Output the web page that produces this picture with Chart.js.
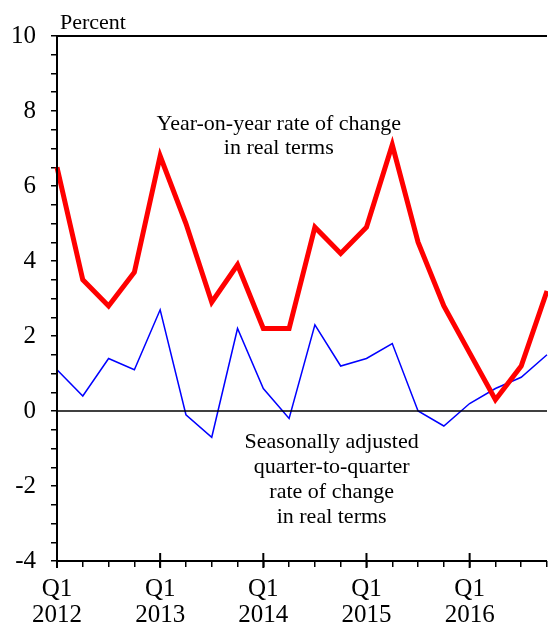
<!DOCTYPE html>
<html>
<head>
<meta charset="utf-8">
<script src="https://cdn.jsdelivr.net/npm/chart.js@4"></script>
<style>
  html, body { margin: 0; padding: 0; background: #fff; }
  #wrap { width: 548px; height: 626px; }
</style>
</head>
<body>
<div id="wrap"><canvas id="chart" width="548" height="626"></canvas></div>
<script>
// quarters Q1 2012 .. Q4 2016
const years = ["2012", "2013", "2014", "2015", "2016"];
const quarters = ["Q1", "Q2", "Q3", "Q4"];
const yoyReal = [6.5, 3.5, 2.8, 3.7, 6.8, 5.0, 2.9, 3.9, 2.2, 2.2, 4.9, 4.2, 4.9, 7.1, 4.5, 2.8, 1.55, 0.3, 1.2, 3.2];
const qoqSa = [1.1, 0.4, 1.4, 1.1, 2.7, -0.1, -0.7, 2.2, 0.6, -0.2, 2.3, 1.2, 1.4, 1.8, 0.0, -0.4, 0.2, 0.6, 0.9, 1.5];
const yTicks = { min: -4, max: 10, major: 2, minor: 0.5 };

const FONT = "'Liberation Serif', 'Times New Roman', serif";

function pts(arr) {
  return arr.map((v, i) => ({ x: i, y: v }));
}

// frame, zero line, long ticks at Q1 and text notes
const decor = {
  id: "decor",
  afterDraw(chart) {
    const ctx = chart.ctx;
    const a = chart.chartArea;
    const x = chart.scales.x;
    const y = chart.scales.y;
    ctx.save();
    ctx.strokeStyle = "#000";

    // zero line
    ctx.lineWidth = 1.5;
    const y0 = Math.round(y.getPixelForValue(0));
    ctx.beginPath();
    ctx.moveTo(a.left, y0);
    ctx.lineTo(a.right, y0);
    ctx.stroke();

    // top border + axes
    ctx.lineWidth = 2;
    ctx.beginPath();
    ctx.moveTo(a.left, a.top);
    ctx.lineTo(a.right, a.top);
    ctx.moveTo(a.left, a.top);
    ctx.lineTo(a.left, a.bottom);
    ctx.lineTo(a.right, a.bottom);
    ctx.stroke();

    // major ticks at Q1
    for (let i = 0; i < yoyReal.length; i += 4) {
      const px = x.getPixelForValue(i);
      ctx.beginPath();
      ctx.moveTo(px, a.bottom - 8);
      ctx.lineTo(px, a.bottom + 7);
      ctx.stroke();
    }

    // labels
    ctx.fillStyle = "#000";
    ctx.font = "22px " + FONT;
    ctx.textAlign = "left";
    ctx.textBaseline = "middle";
    ctx.fillText("Percent", a.left + 3, a.top - 13);

    ctx.textAlign = "center";
    const n1x = x.getPixelForValue(8.6);
    ctx.fillText("Year-on-year rate of change", n1x, y.getPixelForValue(7.65));
    ctx.fillText("in real terms", n1x, y.getPixelForValue(7.0));

    const n2x = x.getPixelForValue(10.65);
    const notes = ["Seasonally adjusted", "quarter-to-quarter", "rate of change", "in real terms"];
    notes.forEach((t, k) => {
      ctx.fillText(t, n2x, y.getPixelForValue(-0.82 - k * 0.667));
    });
    ctx.restore();
  }
};

new Chart(document.getElementById("chart"), {
  type: "line",
  data: {
    datasets: [
      {
        label: "Year-on-year",
        data: pts(yoyReal),
        borderColor: "#ff0000",
        borderWidth: 5,
        pointRadius: 0,
        tension: 0,
        clip: false
      },
      {
        label: "Quarter-to-quarter",
        data: pts(qoqSa),
        borderColor: "#0000ff",
        borderWidth: 1.5,
        pointRadius: 0,
        tension: 0,
        clip: false
      }
    ]
  },
  options: {
    responsive: false,
    animation: false,
    layout: { padding: { top: 36, right: 1, left: 0, bottom: 0 } },
    plugins: { legend: { display: false }, tooltip: { enabled: false } },
    scales: {
      x: {
        type: "linear",
        min: 0,
        max: yoyReal.length - 1,
        border: { display: false },
        grid: { drawOnChartArea: false, tickLength: 6, color: "#000", lineWidth: 1.5 },
        ticks: {
          stepSize: 1,
          autoSkip: false,
          maxRotation: 0,
          padding: 9,
          color: "#000",
          font: { family: FONT, size: 25, lineHeight: 1.06 },
          callback: (v) => (v % 4 === 0 ? [quarters[0], years[v / 4]] : "")
        },
        afterFit: (s) => { s.height = 65; s.paddingLeft = 0; s.paddingRight = 0; }
      },
      y: {
        min: yTicks.min,
        max: yTicks.max,
        border: { display: false },
        grid: { drawOnChartArea: false, tickLength: 6, color: "#000", lineWidth: 1.5 },
        ticks: {
          stepSize: yTicks.minor,
          autoSkip: false,
          padding: 15,
          color: "#000",
          font: { family: FONT, size: 25 },
          callback: (v) => (v % yTicks.major === 0 ? String(v) : "")
        },
        afterFit: (s) => { s.width = 57; }
      }
    }
  },
  plugins: [decor]
});
</script>
</body>
</html>
